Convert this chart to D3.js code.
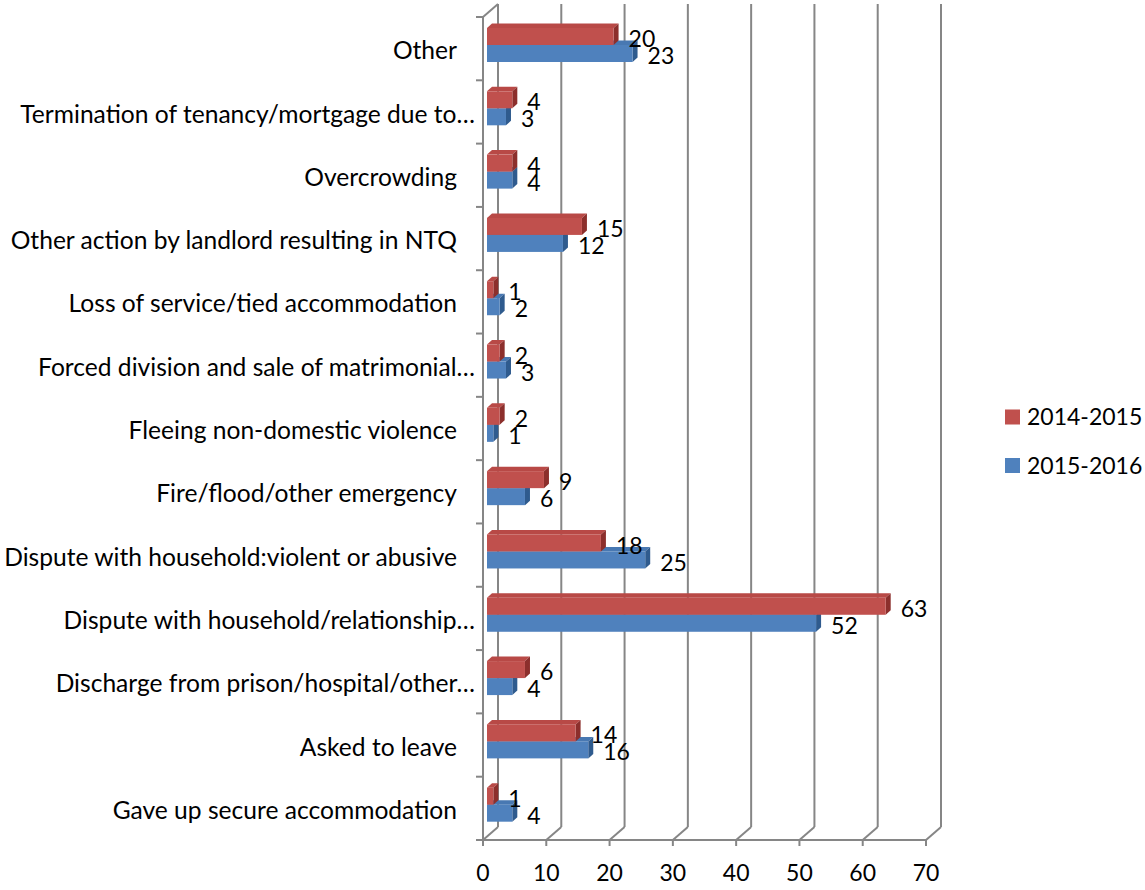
<!DOCTYPE html>
<html>
<head>
<meta charset="utf-8">
<script src="https://cdn.jsdelivr.net/npm/d3@7"></script>
<style>
  body { margin: 0; background: #fff; }
  text { font-family: Lato, "Open Sans", sans-serif; fill: #000; }
</style>
</head>
<body>
<svg id="chart" width="1145" height="890"></svg>
<script>
// categories top to bottom, as shown
var categories = [
  'Other',
  'Termination of tenancy/mortgage due to\u2026',
  'Overcrowding',
  'Other action by landlord resulting in NTQ',
  'Loss of service/tied accommodation',
  'Forced division and sale of matrimonial\u2026',
  'Fleeing non-domestic violence',
  'Fire/flood/other emergency',
  'Dispute with household:violent or abusive',
  'Dispute with household/relationship\u2026',
  'Discharge from prison/hospital/other\u2026',
  'Asked to leave',
  'Gave up secure accommodation'
];
var values1415 = [20, 4, 4, 15, 1, 2, 2, 9, 18, 63, 6, 14, 1];
var values1516 = [23, 3, 4, 12, 2, 3, 1, 6, 25, 52, 4, 16, 4];
var seriesNames = ['2014-2015', '2015-2016'];
var xTicks = [0, 10, 20, 30, 40, 50, 60, 70];

var colors = {
  '2014-2015': { front: '#C0504D', top: '#B84946', side: '#8C2F2C' },
  '2015-2016': { front: '#4F81BD', top: '#4878B2', side: '#2F5B8E' }
};

var svg = d3.select('#chart');

// plot geometry (front plane of the 3D box)
var plotLeft = 483, plotTop = 17, plotBottom = 840;
var depth = { x: 15, y: -13 };     // full depth of the box
var barIn = { x: 4, y: -3.5 };     // bar front offset into the box
var barD = { x: 5, y: -4.5 };      // bar thickness in depth

var x = d3.scaleLinear().domain([0, 70]).range([0, 443]);
var y = d3.scaleBand().domain(categories).range([plotTop, plotBottom]);

var grid = svg.append('g').attr('class', 'grid')
  .attr('stroke', '#868686').attr('stroke-width', 2).attr('fill', 'none');

// back wall gridlines + floor diagonals
xTicks.forEach(function(v) {
  var fx = plotLeft + x(v);
  grid.append('line')
    .attr('x1', fx + depth.x).attr('x2', fx + depth.x)
    .attr('y1', plotTop + depth.y).attr('y2', plotBottom + depth.y);
  grid.append('line')
    .attr('x1', fx).attr('y1', plotBottom)
    .attr('x2', fx + depth.x).attr('y2', plotBottom + depth.y);
  grid.append('line')
    .attr('x1', fx).attr('x2', fx)
    .attr('y1', plotBottom).attr('y2', plotBottom + 6);
});

// front axes
grid.append('line').attr('x1', plotLeft).attr('x2', plotLeft).attr('y1', plotTop).attr('y2', plotBottom);
grid.append('line').attr('x1', plotLeft).attr('y1', plotTop)
  .attr('x2', plotLeft + depth.x).attr('y2', plotTop + depth.y);
grid.append('line').attr('x1', plotLeft).attr('x2', plotLeft + x(70)).attr('y1', plotBottom).attr('y2', plotBottom);

// category ticks
var bounds = categories.map(function(c) { return y(c); }).concat([plotBottom]);
bounds.forEach(function(b) {
  grid.append('line').attr('x1', plotLeft - 7).attr('x2', plotLeft).attr('y1', b).attr('y2', b);
});

// category labels (truncated ones run right up to the ticks)
svg.append('g').selectAll('text.cat')
  .data(categories)
  .enter().append('text')
  .attr('class', 'cat')
  .attr('x', function(d) { return /\u2026$/.test(d) ? 475 : 457; })
  .attr('y', function(d) { return y(d) + y.bandwidth() / 2 + 2; })
  .attr('dy', '0.35em')
  .attr('text-anchor', 'end')
  .attr('font-size', 24.6)
  .text(function(d) { return d; });

// x tick labels
svg.append('g').selectAll('text.tick')
  .data(xTicks)
  .enter().append('text')
  .attr('x', function(d) { return plotLeft + x(d); })
  .attr('y', 873)
  .attr('dy', '0.35em')
  .attr('text-anchor', 'middle')
  .attr('font-size', 23)
  .text(function(d) { return d; });

// 3D bar drawing
function bar(g, x0, x1, y0, h, c) {
  var ax = x0 + barIn.x, ay = y0 + barIn.y;
  var bx = x1 + barIn.x;
  // top face
  g.append('path').attr('fill', c.top)
    .attr('d', 'M' + ax + ',' + ay + 'L' + bx + ',' + ay +
      'L' + (bx + barD.x) + ',' + (ay + barD.y) + 'L' + (ax + barD.x) + ',' + (ay + barD.y) + 'Z');
  // side face
  g.append('path').attr('fill', c.side)
    .attr('d', 'M' + bx + ',' + ay + 'L' + (bx + barD.x) + ',' + (ay + barD.y) +
      'L' + (bx + barD.x) + ',' + (ay + barD.y + h) + 'L' + bx + ',' + (ay + h) + 'Z');
  // front face
  g.append('rect').attr('fill', c.front)
    .attr('x', ax).attr('y', ay).attr('width', bx - ax).attr('height', h);
}

var barH = 17;
var offsets = { '2014-2015': 14.5, '2015-2016': 31.5 };
var data = [values1415, values1516];

var bars = svg.append('g').attr('class', 'bars');
var labels = svg.append('g').attr('class', 'labels');

categories.forEach(function(cat, i) {
  var g = bars.append('g');
  // draw lower (blue) first so red sits on top of its top face
  [1, 0].forEach(function(s) {
    var name = seriesNames[s];
    var v = data[s][i];
    var y0 = y(cat) + offsets[name];
    bar(g, plotLeft, plotLeft + x(v), y0, barH, colors[name]);
    labels.append('text')
      .attr('x', plotLeft + x(v) + barIn.x + barD.x + 10)
      .attr('y', y0 + barIn.y + barH / 2 + 2.5)
      .attr('dy', '0.35em')
      .attr('font-size', 23)
      .text(v);
  });
});

// legend
var legend = svg.append('g').attr('class', 'legend');
seriesNames.forEach(function(name, i) {
  var ly = 417 + i * 48.5;
  legend.append('rect')
    .attr('x', 1005).attr('y', ly - 7.5).attr('width', 15).attr('height', 15)
    .attr('fill', colors[name].front);
  legend.append('text')
    .attr('x', 1027).attr('y', ly).attr('dy', '0.35em')
    .attr('font-size', 23)
    .text(name);
});
</script>
</body>
</html>
